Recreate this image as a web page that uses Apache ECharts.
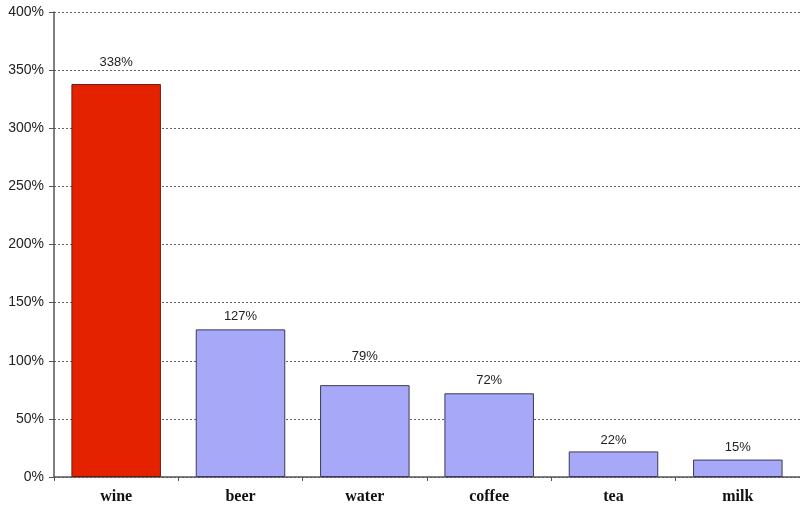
<!DOCTYPE html>
<html>
<head>
<meta charset="utf-8">
<script src="https://cdn.jsdelivr.net/npm/echarts@6/dist/echarts.min.js"></script>
<style>
  html, body { margin: 0; padding: 0; background: #fff; }
  #chart { width: 800px; height: 511px; }
</style>
</head>
<body>
<div id="chart"></div>
<script>
// Drinks and their percentages
const categories = ['wine', 'beer', 'water', 'coffee', 'tea', 'milk'];
const values = [338, 127, 79, 72, 22, 15];
const yTicks = [0, 50, 100, 150, 200, 250, 300, 350, 400];

// Label gap above each bar, in pixels
const labelGaps = [22, 13, 29, 13, 12, 13];

const RED = '#e52200';
const BLUE = '#a8a8f8';

const chart = echarts.init(document.getElementById('chart'), null, { renderer: 'canvas' });

chart.setOption({
  animation: false,
  grid: { left: 54, right: 0, top: 12, bottom: 34, containLabel: false },
  xAxis: {
    type: 'category',
    data: categories,
    axisLine: { show: true, lineStyle: { color: '#555', width: 1.5 } },
    axisTick: { show: true, alignWithLabel: false, length: 4, lineStyle: { color: '#555' } },
    axisLabel: {
      color: '#111',
      fontFamily: 'Liberation Serif',
      fontWeight: 'bold',
      fontSize: 16,
      margin: 12
    }
  },
  yAxis: {
    type: 'value',
    min: yTicks[0],
    max: yTicks[yTicks.length - 1],
    interval: 50,
    axisLine: { show: true, lineStyle: { color: '#555', width: 1.5 } },
    axisTick: { show: true, length: 5, lineStyle: { color: '#555' } },
    axisLabel: {
      formatter: v => v + '%',
      color: '#222',
      fontFamily: 'Liberation Sans',
      fontSize: 14,
      margin: 10
    },
    splitLine: { show: true, lineStyle: { color: '#666', type: [2, 2], width: 1 } }
  },
  series: [{
    type: 'bar',
    barCategoryGap: '28%',
    data: values.map((v, i) => ({
      value: v,
      itemStyle: {
        color: i === 0 ? RED : BLUE,
        borderColor: i === 0 ? '#6a1a10' : '#3a3a5a',
        borderWidth: 1
      },
      label: { distance: labelGaps[i] - 7 }
    })),
    label: {
      show: true,
      position: 'top',
      formatter: p => p.value + '%',
      color: '#222',
      fontFamily: 'Liberation Sans',
      fontSize: 13
    }
  }]
});
</script>
</body>
</html>
